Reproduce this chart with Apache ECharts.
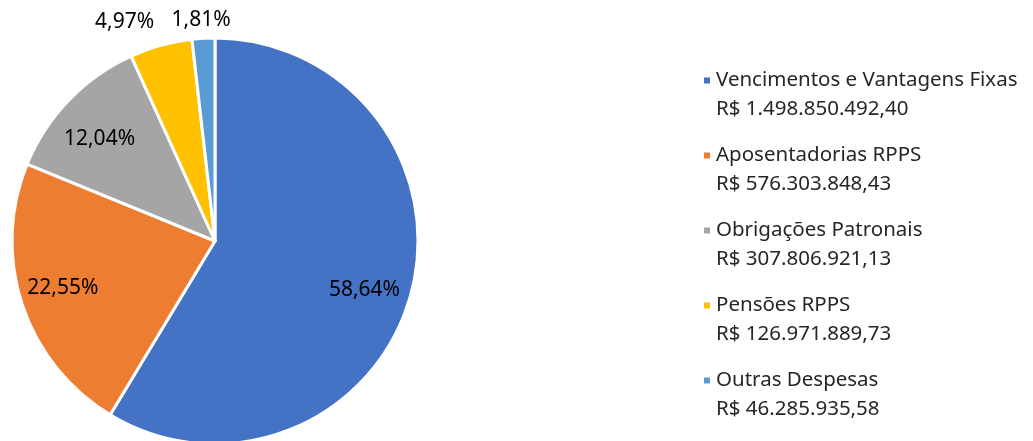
<!DOCTYPE html>
<html lang="pt-BR" style="height: 100%;overflow: hidden;">
<head>
  <meta charset="utf-8">
</head>
<body style="height: 100%; margin: 0; background: #fff;">
  <div id="container" style="width: 1033px; height: 441px"></div>
  <script type="text/javascript" src="https://cdn.jsdelivr.net/npm/echarts@6/dist/echarts.min.js"></script>
  <script type="text/javascript">
    var names = ['Vencimentos e Vantagens Fixas', 'Aposentadorias RPPS', 'Obrigações Patronais', 'Pensões RPPS', 'Outras Despesas'];
    var valores = [1498850492.40, 576303848.43, 307806921.13, 126971889.73, 46285935.58];
    var cores = ['#4472C4', '#ED7D31', '#A5A5A5', '#FFC000', '#5B9BD5'];

    var total = valores.reduce(function (a, b) { return a + b; }, 0);

    function fmtReais(v) {
      var parts = v.toFixed(2).split('.');
      var inteiro = parts[0].replace(/\B(?=(\d{3})+(?!\d))/g, '.');
      return 'R$ ' + inteiro + ',' + parts[1];
    }
    function fmtPct(v) {
      return (v / total * 100).toFixed(2).replace('.', ',') + '%';
    }

    var dom = document.getElementById('container');
    var myChart = echarts.init(dom, null, { renderer: 'canvas' });

    var R = 203;
    var fonte = '"Noto Sans", sans-serif';

    var pieData = names.map(function (n, i) {
      return { name: n, value: valores[i], itemStyle: { color: cores[i] } };
    });
    var labelData = names.map(function (n, i) {
      var d = { name: n, value: valores[i] };
      if (i >= 3) {
        d.label = { position: 'outside' };
      }
      return d;
    });

    // ajuste fino dos rotulos (posicao "melhor ajuste" do Excel)
    var ajusteRotulo = { 0: [-5, 6], 1: [0, -3], 2: [0, 9], 3: [2, -10], 4: [33, -4] };

    var option = {
      backgroundColor: '#fff',
      animation: false,
      legend: {
        orient: 'vertical',
        left: 702,
        top: 37,
        padding: 0,
        icon: 'rect',
        itemWidth: 8,
        itemHeight: 8,
        itemGap: -12,
        textGap: 9,
        data: names,
        formatter: function (name) {
          var i = names.indexOf(name);
          // linha vazia no topo para alinhar o marcador com a primeira linha
          return ' \n' + name + '\n' + fmtReais(valores[i]);
        },
        textStyle: {
          fontFamily: fonte,
          fontSize: 20.5,
          color: '#262626',
          lineHeight: 29
        }
      },
      series: [
        {
          name: 'despesas',
          type: 'pie',
          center: [215, 241],
          radius: [0, R],
          startAngle: 90,
          clockwise: true,
          silent: true,
          label: { show: false },
          labelLine: { show: false },
          itemStyle: { borderColor: '#fff', borderWidth: 3 },
          data: pieData
        },
        {
          name: 'rotulos',
          type: 'pie',
          center: [215, 241],
          radius: [R * 0.55, R],
          startAngle: 90,
          clockwise: true,
          silent: true,
          legendHoverLink: false,
          avoidLabelOverlap: false,
          itemStyle: { color: 'transparent' },
          label: {
            show: true,
            position: 'inside',
            fontFamily: fonte,
            fontSize: 21,
            color: '#000',
            formatter: function (p) { return fmtPct(p.value); }
          },
          labelLine: { show: false, length: 14, length2: 0 },
          labelLayout: function (p) {
            var a = ajusteRotulo[p.dataIndex];
            return a ? { dx: a[0], dy: a[1] } : {};
          },
          data: labelData
        }
      ]
    };

    myChart.setOption(option);
    window.addEventListener('resize', myChart.resize);
  </script>
</body>
</html>
